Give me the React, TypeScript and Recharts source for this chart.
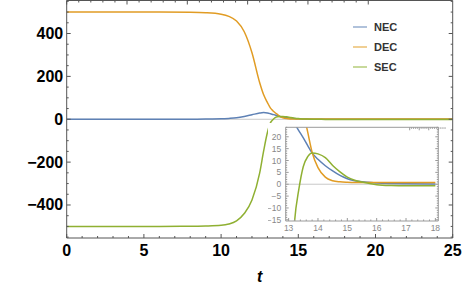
import { LineChart, Line, XAxis, YAxis, ReferenceLine, Legend } from 'recharts'

// time samples and the three curves
const T = [0, 2, 4, 6, 8, 9, 10, 10.5, 11, 11.5, 12, 12.5, 12.75, 13, 13.2, 13.35, 13.5, 13.65, 13.8, 14, 14.25, 14.5, 14.75, 15, 15.25, 15.5, 16, 16.5, 17, 18, 20, 22, 25]
const NEC = [0, 0, 0, 0, 0.3, 0.8, 2, 4, 7, 13, 21, 29, 31, 29, 25.5, 22.5, 19.5, 16.3, 13.2, 10.5, 7.8, 5.6, 3.7, 2.3, 1.5, 1.0, 0.5, 0.3, 0.2, 0.1, 0.1, 0.1, 0.1]
const DEC = [500, 500, 500, 500, 499, 497, 490, 480, 458, 408, 310, 170, 115, 78, 52, 40, 30.5, 22, 13.5, 7, 3, 1.5, 1.0, 0.8, 0.7, 0.7, 0.7, 0.7, 0.7, 0.7, 0.7, 0.7, 0.7]
const SEC = [-500, -500, -500, -500, -499, -498, -495, -489, -474, -440, -377, -250, -150, -62, -16, -2, 7.5, 11.6, 13.2, 12.8, 11.2, 7.9, 5.2, 3.0, 1.7, 0.9, -0.2, -0.55, -0.65, -0.65, -0.65, -0.65, -0.65]

const SERIES = ['NEC', 'DEC', 'SEC']
const COLORS: Record<string, string> = { NEC: '#5e81b5', DEC: '#e19c24', SEC: '#8fb032' }

const MAIN_X_LABELS = [0, 5, 10, 15, 20, 25]
const MAIN_Y_LABELS = [-400, -200, 0, 200, 400]
const INSET_X_LABELS = [13, 14, 15, 16, 17, 18]
const INSET_Y_LABELS = [-15, -10, -5, 0, 5, 10, 15, 20]

const rows = T.map((t, i) => ({ t, NEC: NEC[i], DEC: DEC[i], SEC: SEC[i] }))
const insetRows = rows.filter(r => r.t >= 13 && r.t <= 18)

const steps = (from: number, to: number, step: number) => {
    const out: number[] = []
    for (let v = from; v <= to + 1e-9; v += step) out.push(Math.round(v * 1000) / 1000)
    return out
}

const FRAME = '#555'
const INSET_FRAME = '#9a9a9a'
const fmt = (v: number) => (v < 0 ? `\u2212${-v}` : `${v}`)

type Side = 'bottom' | 'top' | 'left' | 'right'
type LabelOpts = { gap: number; style: React.CSSProperties }

// frame ticks pointing inward, Mathematica style; labels only on major ticks
function frameTick(side: Side, majors: number[], majorLen: number, minorLen: number, stroke: string, label?: LabelOpts) {
    return (props: any) => {
        const { x, y, payload } = props
        const v = payload.value
        const major = majors.some(m => Math.abs(m - v) < 1e-6)
        const len = major ? majorLen : minorLen
        const [dx, dy] = side === 'bottom' ? [0, -1] : side === 'top' ? [0, 1] : side === 'left' ? [1, 0] : [-1, 0]
        return (
            <g>
                <line x1={x} y1={y} x2={x + dx * len} y2={y + dy * len} stroke={stroke} strokeWidth={1} />
                {label && major && side === 'bottom' && (
                    <text x={x} y={y + label.gap} textAnchor="middle" dominantBaseline="central" style={label.style}>{fmt(v)}</text>
                )}
                {label && major && side === 'left' && (
                    <text x={x - label.gap} y={y} textAnchor="end" dominantBaseline="central" style={label.style}>{fmt(v)}</text>
                )}
            </g>
        )
    }
}

const mainLabel = { fontFamily: '"Liberation Sans", Arial, sans-serif', fontWeight: 'bold', fontSize: 16, fill: '#000' }
const insetLabel = { fontFamily: '"Liberation Sans", Arial, sans-serif', fontSize: 8.5, fill: '#888' }

const renderLegend = (props: any) => {
    const items = SERIES.map(s => props.payload.find((p: any) => p.value === s)).filter(Boolean)
    return (
        <div>
            {items.map((p: any) => (
                <div key={p.value} style={{ display: 'flex', alignItems: 'center', height: 19.7 }}>
                    <svg width={14} height={4}>
                        <line x1={0} x2={14} y1={2} y2={2} stroke={p.color} strokeOpacity={0.65} strokeWidth={1.5} />
                    </svg>
                    <span style={{ marginLeft: 7, fontFamily: '"Liberation Sans", Arial, sans-serif', fontWeight: 'bold', fontSize: 11, color: '#333' }}>
                        {p.value}
                    </span>
                </div>
            ))}
        </div>
    )
}

export default function App() {
    const mainXTicks = steps(0, 25, 1)
    const mainYTicks = steps(-550, 550, 50)
    const insetXTicks = steps(13, 18, 0.2)
    const insetYTicks = steps(-15, 24, 1)

    return (
        <div style={{ position: 'absolute', left: 0, top: 0, width: 463, height: 287, background: '#fff' }}>
            <LineChart width={463} height={287} data={rows} margin={{ top: -0.5, right: 9.3, bottom: 48, left: 65.7 }}>
                <XAxis dataKey="t" type="number" domain={[0, 25]} allowDataOverflow ticks={mainXTicks} interval={0}
                    height={1} tickSize={0} tickMargin={0} tickLine={false} axisLine={{ stroke: FRAME }}
                    tick={frameTick('bottom', MAIN_X_LABELS, 4, 2, FRAME, { gap: 12.5, style: mainLabel })}
                    label={{ value: 't', position: 'bottom', offset: 32, style: { ...mainLabel, fontStyle: 'italic', fontSize: 16 } }} />
                <XAxis xAxisId="top" orientation="top" type="number" domain={[0, 25]} allowDataOverflow ticks={mainXTicks} interval={0}
                    height={1} tickSize={0} tickMargin={0} tickLine={false} axisLine={{ stroke: FRAME }}
                    tick={frameTick('top', MAIN_X_LABELS, 4, 2, FRAME)} />
                <YAxis type="number" domain={[-554, 554]} allowDataOverflow ticks={mainYTicks} interval={0}
                    width={1} tickSize={0} tickMargin={0} tickLine={false} axisLine={{ stroke: FRAME }}
                    tick={frameTick('left', MAIN_Y_LABELS, 4, 2, FRAME, { gap: 3.5, style: mainLabel })} />
                <YAxis yAxisId="right" orientation="right" type="number" domain={[-554, 554]} allowDataOverflow ticks={mainYTicks} interval={0}
                    width={1} tickSize={0} tickMargin={0} tickLine={false} axisLine={{ stroke: FRAME }}
                    tick={frameTick('right', MAIN_Y_LABELS, 4, 2, FRAME)} />
                <ReferenceLine y={0} stroke="#c8c8c8" strokeWidth={1} />
                {SERIES.map(s => (
                    <Line key={s} dataKey={s} name={s} type="monotone" stroke={COLORS[s]} strokeWidth={1.5}
                        dot={false} activeDot={false} isAnimationActive={false} />
                ))}
                <Legend layout="vertical" align="center" verticalAlign="middle" content={renderLegend}
                    wrapperStyle={{ left: 353, top: 17.5, width: 60, height: 60 }} />
            </LineChart>

            <div style={{ position: 'absolute', left: 268, top: 123, width: 178, height: 110, background: '#fff' }}>
                <LineChart width={178} height={110} data={insetRows} margin={{ top: 3.3, right: 6.7, bottom: 11, left: 16.7 }}>
                    <XAxis dataKey="t" type="number" domain={[12.9, 18.1]} allowDataOverflow ticks={insetXTicks} interval={0}
                        height={1} tickSize={0} tickMargin={0} tickLine={false} axisLine={{ stroke: INSET_FRAME }}
                        tick={frameTick('bottom', INSET_X_LABELS, 3, 1.5, INSET_FRAME, { gap: 6.5, style: insetLabel })} />
                    <XAxis xAxisId="top" orientation="top" type="number" domain={[12.9, 18.1]} allowDataOverflow ticks={insetXTicks} interval={0}
                        height={1} tickSize={0} tickMargin={0} tickLine={false} axisLine={{ stroke: INSET_FRAME }}
                        tick={frameTick('top', INSET_X_LABELS, 3, 1.5, INSET_FRAME)} />
                    <YAxis type="number" domain={[-15.5, 24]} allowDataOverflow ticks={insetYTicks} interval={0}
                        width={1} tickSize={0} tickMargin={0} tickLine={false} axisLine={{ stroke: INSET_FRAME }}
                        tick={frameTick('left', INSET_Y_LABELS, 3, 1.5, INSET_FRAME, { gap: 4.5, style: insetLabel })} />
                    <YAxis yAxisId="right" orientation="right" type="number" domain={[-15.5, 24]} allowDataOverflow ticks={insetYTicks} interval={0}
                        width={1} tickSize={0} tickMargin={0} tickLine={false} axisLine={{ stroke: INSET_FRAME }}
                        tick={frameTick('right', INSET_Y_LABELS, 3, 1.5, INSET_FRAME)} />
                    <ReferenceLine y={0} stroke="#c8c8c8" strokeWidth={1} />
                    {SERIES.map(s => (
                        <Line key={s} dataKey={s} name={s} type="monotone" stroke={COLORS[s]} strokeWidth={1.5}
                            dot={false} activeDot={false} isAnimationActive={false} />
                    ))}
                </LineChart>
            </div>
        </div>
    )
}
